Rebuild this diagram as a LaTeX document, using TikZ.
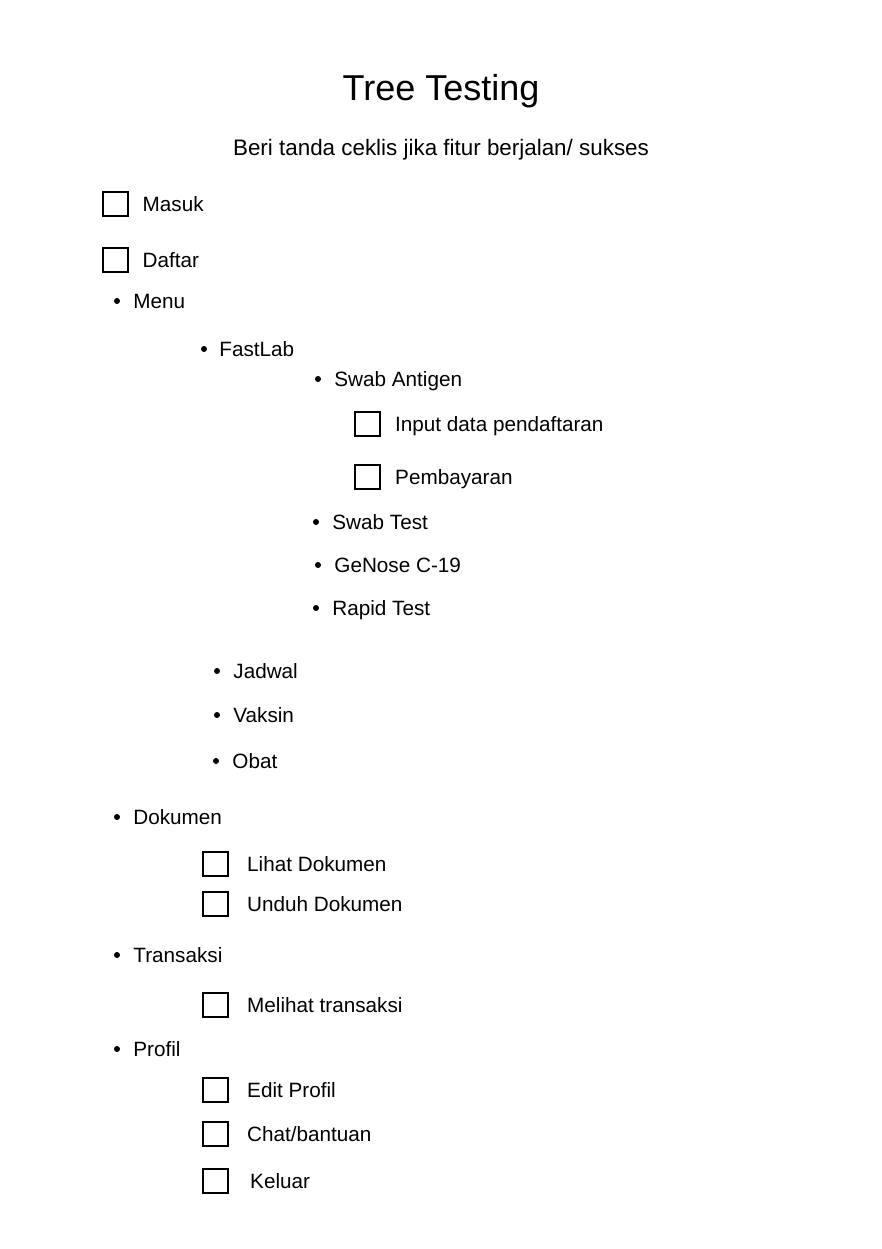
\documentclass[tikz,border=0pt]{standalone}
\usepackage{fontspec}
\setmainfont{Liberation Sans}
\usetikzlibrary{positioning}

\tikzset{
  chk/.style = {draw, line width = 2pt, minimum width = 25pt, minimum height = 24pt, inner sep = 0pt},
  dot/.style = {circle, fill, inner sep = 0pt, minimum size = 6pt},
  item/.style = {inner sep = 0pt, anchor = west, text height = 15pt, text depth = 0pt, font = \fontsize{20.7}{24}\selectfont}
}

\begin{document}
\begin{tikzpicture}[x = 1pt, y = -1pt, node distance = 14pt]
	\fill[white] (0,0) rectangle (882,1249);
	\useasboundingbox (0,0) rectangle (882,1249);
	% heading
	\node[font = \fontsize{36}{40}\selectfont] (title) at (441,91) {Tree Testing};
	\node[font = \fontsize{22.4}{26}\selectfont] (sub) at (441,150) {Beri tanda ceklis jika fitur berjalan/ sukses};
	% login
	\node[chk] (cMasuk) at (115,204) {};
	\node[item, right = of cMasuk] (masuk) {Masuk};
	\node[chk] (cDaftar) at (115,260) {};
	\node[item, right = of cDaftar] (daftar) {Daftar};
	% menu
	\node[dot] (bMenu) at (117,301) {};
	\node[item, right = 13pt of bMenu] (menu) {Menu};
	\node[dot] (bFast) at (204,349) {};
	\node[item, right = 12pt of bFast] (fastlab) {FastLab};
	\node[dot] (bAntigen) at (318,379) {};
	\node[item, right = 13pt of bAntigen] (antigen) {Swab Antigen};
	\node[chk] (cInput) at (367.5,424) {};
	\node[item, right = of cInput] (input) {Input data pendaftaran};
	\node[chk] (cBayar) at (367.5,477) {};
	\node[item, right = of cBayar] (bayar) {Pembayaran};
	\node[dot] (bSwab) at (316,522) {};
	\node[item, right = 13pt of bSwab] (swab) {Swab Test};
	\node[dot] (bGenose) at (318,565) {};
	\node[item, right = 13pt of bGenose] (genose) {GeNose C-19};
	\node[dot] (bRapid) at (316,608) {};
	\node[item, right = 13pt of bRapid] (rapid) {Rapid Test};
	\node[dot] (bJadwal) at (217,671) {};
	\node[item, right = 13pt of bJadwal] (jadwal) {Jadwal};
	\node[dot] (bVaksin) at (217,715) {};
	\node[item, right = 13pt of bVaksin] (vaksin) {Vaksin};
	\node[dot] (bObat) at (216,761) {};
	\node[item, right = 13pt of bObat] (obat) {Obat};
	% dokumen
	\node[dot] (bDok) at (117,817) {};
	\node[item, right = 13pt of bDok] (dokumen) {Dokumen};
	\node[chk] (cLihat) at (215.5,864) {};
	\node[item, right = 18pt of cLihat] (lihat) {Lihat Dokumen};
	\node[chk] (cUnduh) at (215.5,904) {};
	\node[item, right = 18pt of cUnduh] (unduh) {Unduh Dokumen};
	% transaksi
	\node[dot] (bTrans) at (117,955) {};
	\node[item, right = 13pt of bTrans] (transaksi) {Transaksi};
	\node[chk] (cMelihat) at (215.5,1005) {};
	\node[item, right = 18pt of cMelihat] (melihat) {Melihat transaksi};
	% profil
	\node[dot] (bProfil) at (117,1049) {};
	\node[item, right = 13pt of bProfil] (profil) {Profil};
	\node[chk] (cEdit) at (215.5,1090) {};
	\node[item, right = 18pt of cEdit] (edit) {Edit Profil};
	\node[chk] (cChat) at (215.5,1134) {};
	\node[item, right = 18pt of cChat] (chat) {Chat/bantuan};
	\node[chk] (cKeluar) at (215.5,1181) {};
	\node[item, right = 21pt of cKeluar] (keluar) {Keluar};
\end{tikzpicture}
\end{document}
